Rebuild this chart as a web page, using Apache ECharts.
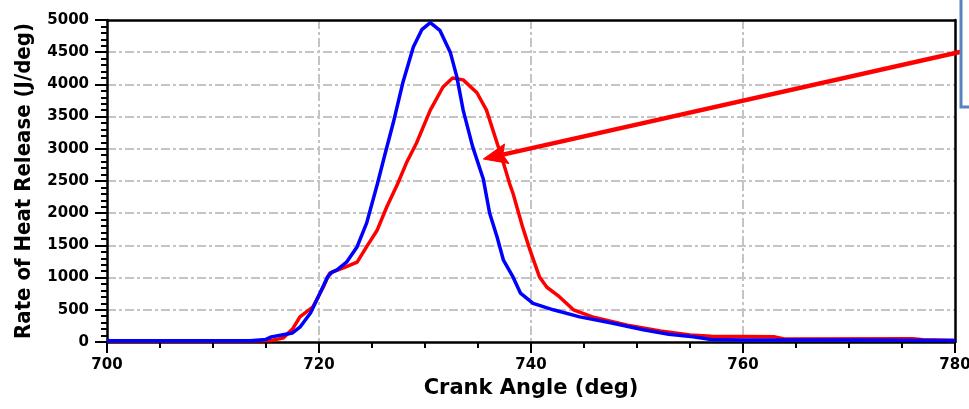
<!DOCTYPE html>
<html>
<head>
<meta charset="utf-8">
<script src="https://cdn.jsdelivr.net/npm/echarts@6/dist/echarts.min.js"></script>
<style>html,body{margin:0;padding:0;background:#fff;}#c{width:969px;height:409px;}</style>
</head>
<body>
<div id="c"></div>
<script>
var xTicks = [700, 720, 740, 760, 780];
var blueAngle = [700, 705, 710, 713.5, 715, 715.5, 716.5, 717.5, 718.2, 719.2, 720.1, 720.8, 721.2, 721.7, 722.6, 723.6, 724.5, 725.5, 726.2, 727, 727.9, 728.9, 729.7, 730.5, 731.4, 732.4, 733, 733.6, 734.5, 735.5, 736.1, 736.8, 737.4, 738.3, 739, 740.2, 742.1, 744.6, 747.5, 750.6, 753, 755.3, 757, 760, 770, 780];
var blueRate = [20, 20, 20, 20, 40, 80, 110, 140, 230, 450, 760, 1010, 1080, 1120, 1240, 1480, 1850, 2450, 2900, 3400, 4020, 4580, 4850, 4960, 4840, 4490, 4120, 3600, 3030, 2530, 2000, 1630, 1270, 1010, 760, 600, 500, 390, 300, 190, 120, 80, 40, 30, 30, 25];
var redAngle = [700, 714, 715.5, 716.6, 717.5, 718.2, 719.4, 720.4, 721, 722.3, 723.6, 724.5, 725.5, 726.4, 727.4, 728.3, 729.2, 730.5, 731.7, 732.6, 733.6, 734.9, 735.8, 736.8, 737.4, 738, 738.3, 739.2, 739.9, 740.8, 741.5, 742.7, 744, 745.8, 749.1, 752.2, 755, 757, 763, 764, 776, 777, 780];
var redRate = [20, 20, 25, 60, 200, 390, 540, 850, 1070, 1150, 1240, 1480, 1740, 2100, 2450, 2800, 3090, 3600, 3960, 4100, 4070, 3870, 3600, 3090, 2780, 2450, 2310, 1790, 1430, 1010, 850, 700, 500, 390, 260, 170, 110, 90, 80, 45, 50, 35, 25];
var arrowTip = [735.5, 2842];
var arrowTail = [781.3, 4534];

function pairs(a, b) { return a.map(function (v, i) { return [v, b[i]]; }); }

var chart = echarts.init(document.getElementById('c'));
var gridLine = { show: true, showMinLine: false, showMaxLine: false, lineStyle: { color: '#c4c4c4', width: 2, type: [9, 3, 3, 3] } };
var option = {
  animation: false,
  grid: { left: 107, right: 14, top: 20, bottom: 67, show: false, containLabel: false, outerBoundsMode: 'none' },
  xAxis: [{
    type: 'value', min: 700, max: 780, interval: 20,
    name: 'Crank Angle (deg)', nameLocation: 'middle', nameGap: 36,
    nameTextStyle: { fontFamily: 'DejaVu Sans', fontWeight: 'bold', fontSize: 21, color: '#000' },
    axisLine: { show: true, onZero: false, lineStyle: { color: '#000', width: 2.5 } },
    axisTick: { show: true, inside: false, length: 11, lineStyle: { color: '#000', width: 2 } },
    minorTick: { show: true, splitNumber: 4, length: 6, lineStyle: { color: '#000', width: 2 } },
    axisLabel: { fontFamily: 'DejaVu Sans', fontWeight: 'bold', fontSize: 15, color: '#000', margin: 16,
      hideOverlap: false, showMaxLabel: true,
      formatter: function (v) { return xTicks.indexOf(v) >= 0 ? String(v) : ''; } },
    splitLine: gridLine
  }, {
    type: 'value', position: 'top', min: 700, max: 780, interval: 20,
    axisLine: { show: true, onZero: false, lineStyle: { color: '#000', width: 2.5 } },
    axisTick: { show: false }, axisLabel: { show: false }, splitLine: { show: false }
  }],
  yAxis: [{
    type: 'value', min: 0, max: 5000, interval: 500,
    name: 'Rate of Heat Release (J/deg)', nameLocation: 'middle', nameGap: 72, nameRotate: 90,
    nameTextStyle: { fontFamily: 'DejaVu Sans Condensed', fontWeight: 'bold', fontSize: 22, color: '#000' },
    axisLine: { show: true, onZero: false, lineStyle: { color: '#000', width: 2.5 } },
    axisTick: { show: true, inside: false, length: 12, lineStyle: { color: '#000', width: 2 } },
    minorTick: { show: true, splitNumber: 5, length: 6, lineStyle: { color: '#000', width: 2 } },
    axisLabel: { fontFamily: 'DejaVu Sans', fontWeight: 'bold', fontSize: 15, color: '#000', margin: 18,
      formatter: function (v) { return String(v); } },
    splitLine: gridLine
  }, {
    type: 'value', position: 'right', min: 0, max: 5000, interval: 500,
    axisLine: { show: true, onZero: false, lineStyle: { color: '#000', width: 2.5 } },
    axisTick: { show: false }, axisLabel: { show: false }, splitLine: { show: false }
  }],
  series: [
    { name: 'red', type: 'line', data: pairs(redAngle, redRate), showSymbol: false, smooth: false,
      lineStyle: { color: '#ff0000', width: 3.5 }, itemStyle: { color: '#ff0000' } },
    { name: 'blue', type: 'line', data: pairs(blueAngle, blueRate), showSymbol: false, smooth: false,
      lineStyle: { color: '#0000ff', width: 3.5 }, itemStyle: { color: '#0000ff' } }
  ]
};
chart.setOption(option);

var tip = chart.convertToPixel({ xAxisIndex: 0, yAxisIndex: 0 }, arrowTip);
var tail = chart.convertToPixel({ xAxisIndex: 0, yAxisIndex: 0 }, arrowTail);
var dx = tail[0] - tip[0], dy = tail[1] - tip[1];
var len = Math.sqrt(dx * dx + dy * dy);
var ux = dx / len, uy = dy / len;
var headLen = 24, headHalf = 10;
var bx = tip[0] + ux * headLen, by = tip[1] + uy * headLen;
var p1 = [bx - uy * headHalf, by + ux * headHalf];
var p2 = [bx + uy * headHalf, by - ux * headHalf];
var neck = [tip[0] + ux * (headLen - 4), tip[1] + uy * (headLen - 4)];
chart.setOption({
  graphic: [
    { type: 'line', z: 100, shape: { x1: neck[0], y1: neck[1], x2: tail[0], y2: tail[1] },
      style: { stroke: '#ff0000', lineWidth: 4.5 } },
    { type: 'polygon', z: 100, shape: { points: [tip, p1, neck, p2] },
      style: { fill: '#ff0000', stroke: '#ff0000', lineWidth: 1 } },
    { type: 'rect', z: 101, shape: { x: 961, y: -5, width: 40, height: 112 },
      style: { fill: '#fff', stroke: '#5a82bd', lineWidth: 3 } }
  ]
});
</script>
</body>
</html>
